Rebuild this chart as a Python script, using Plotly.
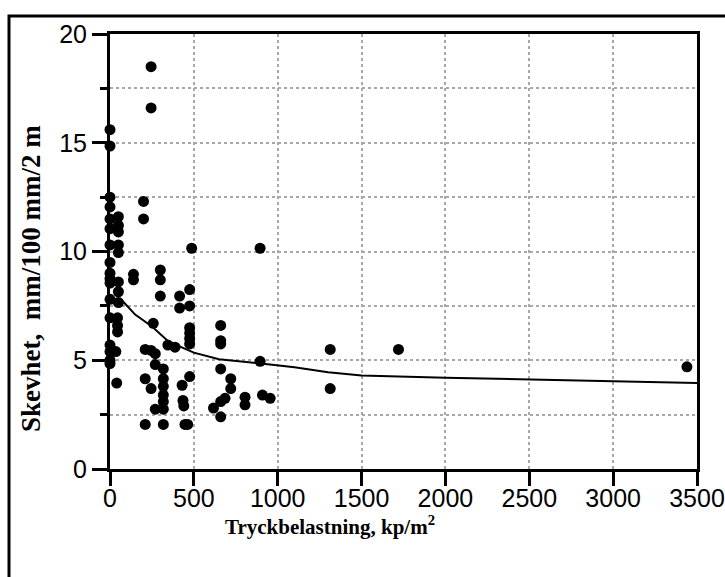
import plotly.graph_objects as go

# Scatter data: pressure load (kp/m^2) vs. skevhet (mm/100 mm/2 m)
load = [0, 0, 0, 0, 0, 0, 0, 0, 0, 0, 0, 0, 0, 0, 0, 0, 0,
        50, 50, 50, 50, 50, 50, 50, 50, 45, 45, 45, 35, 40,
        140, 140,
        200, 200,
        245, 245,
        210, 210, 210,
        245, 245,
        258,
        270, 270, 270,
        300, 300, 300,
        318, 318, 318, 318, 318, 318, 318,
        345, 388,
        415, 415,
        430, 435, 440,
        447, 463,
        475, 475, 475, 475, 475, 475, 475,
        487,
        660, 660, 660, 660, 660, 660,
        686, 617,
        720, 720,
        805, 805,
        895, 895,
        909, 955,
        1313, 1313,
        1720,
        3440]
skev = [15.6, 14.85, 12.5, 12.05, 11.5, 11.05, 10.3, 9.5, 9.0, 8.75, 8.55, 7.8, 6.95, 5.7, 5.4, 5.0, 4.85,
        11.6, 11.2, 10.9, 10.3, 9.95, 8.6, 8.15, 7.65, 6.95, 6.6, 6.3, 5.4, 3.95,
        8.95, 8.7,
        12.3, 11.5,
        18.5, 16.6,
        5.5, 4.15, 2.05,
        5.45, 3.7,
        6.7,
        5.3, 4.8, 2.75,
        9.15, 8.7, 7.95,
        4.6, 4.15, 3.8, 3.4, 3.1, 2.75, 2.05,
        5.7, 5.6,
        7.95, 7.4,
        3.85, 3.15, 2.9,
        2.05, 2.05,
        8.25, 7.5, 6.5, 6.25, 6.0, 5.75, 4.25,
        10.15,
        6.6, 5.9, 5.75, 4.6, 3.1, 2.4,
        3.25, 2.8,
        4.15, 3.7,
        3.3, 2.95,
        10.15, 4.95,
        3.4, 3.25,
        5.5, 3.7,
        5.5,
        4.7]

# Fitted curve
curve_x = [60, 150, 250, 350, 500, 650, 900, 1100, 1300, 1500, 2000, 2500, 3000, 3500]
curve_y = [7.85, 7.1, 6.55, 5.85, 5.35, 5.05, 4.85, 4.68, 4.45, 4.3, 4.2, 4.1, 4.03, 3.95]

x_ticks = [0, 500, 1000, 1500, 2000, 2500, 3000, 3500]
y_ticks = [0, 5, 10, 15, 20]

fig = go.Figure()
fig.add_trace(go.Scatter(x=curve_x, y=curve_y, mode="lines",
                         line=dict(color="black", width=2), cliponaxis=False,
                         hoverinfo="skip", showlegend=False))
fig.add_trace(go.Scatter(x=load, y=skev, mode="markers",
                         marker=dict(color="black", size=11, line=dict(width=0)),
                         cliponaxis=False, showlegend=False))

grid = dict(showgrid=True, gridcolor="#a8a8a8", gridwidth=1.5, griddash="dot")
fig.update_xaxes(range=[0, 3500], tickvals=x_ticks, ticktext=[str(v) for v in x_ticks],
                 showline=True, linecolor="black", linewidth=3, mirror=True,
                 ticks="outside", ticklen=14, tickwidth=3, tickcolor="black",
                 ticklabelstandoff=-9, ticklabeloverflow="allow", automargin=False,
                 zeroline=False, tickfont=dict(family="Liberation Sans, Arial", size=25, color="black"),
                 **grid)
fig.update_yaxes(range=[0, 20], tickvals=y_ticks, ticktext=[str(v) for v in y_ticks],
                 showline=True, linecolor="black", linewidth=3, mirror=True,
                 ticks="outside", ticklen=15, tickwidth=3, tickcolor="black",
                 ticklabeloverflow="allow", automargin=False,
                 zeroline=False, tickfont=dict(family="Liberation Sans, Arial", size=25, color="black"),
                 minor=dict(dtick=2.5, tick0=0, ticks="outside", ticklen=7, tickwidth=3,
                            tickcolor="black", showgrid=True, gridcolor="#a8a8a8",
                            gridwidth=1.5, griddash="dot"),
                 **grid)

fig.add_annotation(text="<b>Tryckbelastning, kp/m<sup>2</sup></b>", xref="paper", yref="paper",
                   x=(330 - 110) / 587, y=-(525 - 469) / 435, showarrow=False,
                   xanchor="center", yanchor="middle",
                   font=dict(family="Liberation Serif, Times New Roman", size=21, color="black"))
fig.add_annotation(text="<b>Skevhet,  mm/100 mm/2 m</b>", xref="paper", yref="paper",
                   x=-(110 - 31) / 587, y=(469 - 279) / 435, showarrow=False, textangle=-90,
                   xanchor="center", yanchor="middle",
                   font=dict(family="Liberation Serif, Times New Roman", size=27, color="black"))

# outer frame
fig.add_shape(type="rect", xref="paper", yref="paper",
              x0=-(110 - 9) / 587, x1=1.2, y0=-0.5, y1=(469 - 16) / 435,
              line=dict(color="black", width=3))

fig.update_layout(width=725, height=577, margin=dict(l=110, r=28, t=34, b=108, autoexpand=False),
                  plot_bgcolor="white", paper_bgcolor="white")
fig.write_html("out.html")
